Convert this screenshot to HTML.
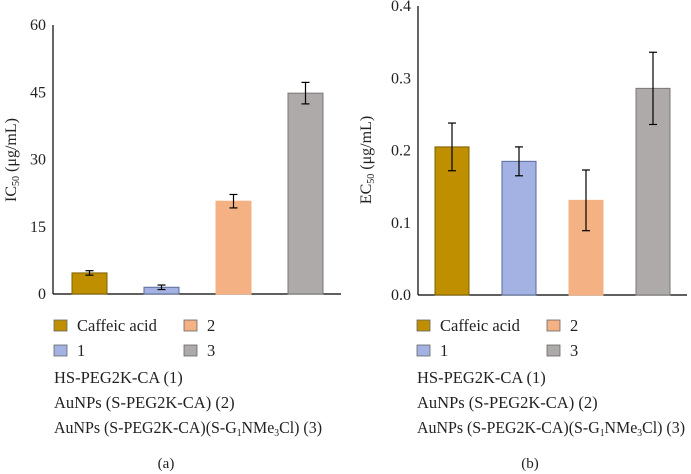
<!DOCTYPE html>
<html><head><meta charset="utf-8"><style>
html,body{margin:0;padding:0;background:#fff;width:691px;height:474px;overflow:hidden}
svg{display:block;font-family:"Liberation Serif",serif}
text{font-family:"Liberation Serif",serif}
</style></head><body>
<svg id="fig" width="691" height="474" viewBox="0 0 691 474" xmlns="http://www.w3.org/2000/svg">
<g id="pa"></g>
<g id="pb"></g>
</svg>
<script>
const categories = ["Caffeic acid","1","2","3"];
const colors = ["#bf8f00","#a3b1e3","#f4b183","#aeaaaa"];
const strokes = ["#7f6000","#5a6a9a","#f4b183","#7a7777"];
const icValues = [4.7, 1.5, 20.7, 44.8];
const icErrors = [0.5, 0.5, 1.5, 2.4];
const icTicks = [0, 15, 30, 45, 60];
const icTickLabels = ["0","15","30","45","60"];
const ecValues = [0.205, 0.185, 0.131, 0.286];
const ecErrors = [0.033, 0.02, 0.042, 0.05];
const ecTicks = [0, 0.1, 0.2, 0.3, 0.4];
const ecTickLabels = ["0.0","0.1","0.2","0.3","0.4"];

const NS="http://www.w3.org/2000/svg";
function mk(parent, tag, attrs, text){
  const e=document.createElementNS(NS,tag);
  for(const k in attrs) e.setAttribute(k,attrs[k]);
  if(text!==undefined) e.textContent=text;
  parent.appendChild(e); return e;
}
function panel(g, cfg){
  const y = v => cfg.y0 - (v - cfg.min)/(cfg.max-cfg.min)*(cfg.y0-cfg.yTop);
  const x = i => cfg.barX0 + i*cfg.step;
  let e;
  e=mk(g,'line',{x1:cfg.axX,y1:cfg.yTop,x2:cfg.axX,y2:cfg.y0,stroke:'#000','stroke-width':1.2});
  
  
  e=mk(g,'line',{x1:cfg.axX,y1:cfg.y0,x2:cfg.axEnd,y2:cfg.y0,stroke:'#000','stroke-width':1.2});
  
  
  cfg.ticks.forEach((t,i)=>{
    e=mk(g,'text',{x:cfg.axX-7,y:y(t)+5,'text-anchor':'end','font-size':16,fill:'#222'},cfg.tickLabels[i]);
    
    
  });
  const t=mk(g,'text',{transform:`translate(${cfg.titleX},160) rotate(-90)`,'text-anchor':'middle','font-size':16,fill:'#222'});
  
  
  t.appendChild(document.createTextNode(cfg.titlePre));
  mk(t,'tspan',{'font-size':10,dy:3},'50');
  mk(t,'tspan',{dy:-3},' (μg/mL)');
  cfg.values.forEach((v,i)=>{
    e=mk(g,'rect',{x:x(i),y:y(v),width:cfg.barW,height:cfg.y0-y(v),fill:colors[i],stroke:strokes[i],'stroke-width':1});
    
    
    const cx=x(i)+cfg.barW/2, hi=y(v+cfg.errors[i]), lo=y(v-cfg.errors[i]);
    const eg=mk(g,'g',{stroke:'#000','stroke-width':1.2});
    
    
    mk(eg,'line',{x1:cx,y1:hi,x2:cx,y2:lo});
    mk(eg,'line',{x1:cx-4,y1:hi,x2:cx+4,y2:hi});
    mk(eg,'line',{x1:cx-4,y1:lo,x2:cx+4,y2:lo});
  });
  const lx=cfg.legX;
  const pos=[[0,0],[0,1],[1,0],[1,1]];
  categories.forEach((c,i)=>{
    const px=lx+pos[i][0]*130, py=320+pos[i][1]*25;
    const lg=mk(g,'g',{});
    
    
    mk(lg,'rect',{x:px,y:py,width:13,height:11,fill:colors[i],stroke:'#666','stroke-width':0.8});
    mk(lg,'text',{x:px+23,y:py+11,'font-size':16.5,fill:'#222'},c);
  });
  e=mk(g,'text',{x:lx,y:383,'font-size':16.5,fill:'#222'},"HS-PEG2K-CA (1)");
  
  
  e=mk(g,'text',{x:lx,y:408,'font-size':16.5,fill:'#222'},"AuNPs (S-PEG2K-CA) (2)");
  
  
  const n3=mk(g,'text',{x:lx,y:433,'font-size':16.5,fill:'#222',textLength:268,lengthAdjust:'spacingAndGlyphs'});
  
  
  n3.appendChild(document.createTextNode("AuNPs (S-PEG2K-CA)(S-G"));
  mk(n3,'tspan',{'font-size':10,dy:3},'1');
  mk(n3,'tspan',{dy:-3},'NMe');
  mk(n3,'tspan',{'font-size':10,dy:3},'3');
  mk(n3,'tspan',{dy:-3},'Cl) (3)');
  e=mk(g,'text',{x:cfg.capX,y:468,'text-anchor':'middle','font-size':15,fill:'#222'},cfg.cap);
  
  
}
panel(document.getElementById('pa'),{min:0,max:60,y0:294,yTop:25,axX:53,axEnd:341,barX0:72,step:72,barW:35,
  ticks:icTicks,tickLabels:icTickLabels,values:icValues,errors:icErrors,titleX:16,titlePre:'IC',legX:54,cap:'(a)',capX:166});
panel(document.getElementById('pb'),{min:0,max:0.4,y0:295,yTop:6,axX:418,axEnd:687,barX0:435,step:67,barW:34,
  ticks:ecTicks,tickLabels:ecTickLabels,values:ecValues,errors:ecErrors,titleX:371,titlePre:'EC',legX:417,cap:'(b)',capX:530});
</script>
</body></html>
